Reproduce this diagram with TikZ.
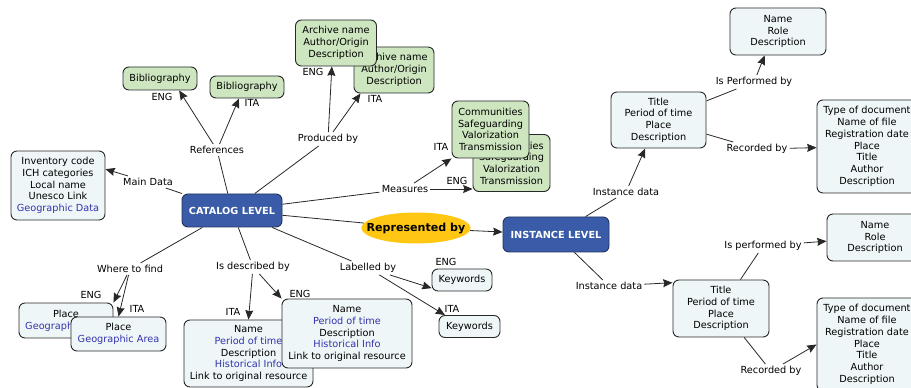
\documentclass[tikz,border=0pt]{standalone}
\usepackage{fontspec}
\setmainfont{DejaVu Sans}
\usetikzlibrary{arrows.meta,shapes.geometric}
\definecolor{boxblue}{RGB}{238,246,248}
\definecolor{boxgreen}{RGB}{206,230,192}
\definecolor{levelblue}{RGB}{58,92,168}
\definecolor{linkgold}{RGB}{255,198,20}
\definecolor{infoblue}{RGB}{51,51,170}
\definecolor{edgegray}{RGB}{40,40,40}
\newcommand{\info}[1]{\textcolor{infoblue}{#1}}
\begin{document}
\begin{tikzpicture}[x=0.75pt,y=-0.75pt,
    font=\fontsize{7.3}{8.8}\selectfont,
    concept/.style={draw=edgegray, line width=0.7pt, rounded corners=4.5pt, align=center, inner sep=1pt},
    infobox/.style={concept, fill=boxblue},
    greenbox/.style={concept, fill=boxgreen},
    levelbox/.style={concept, fill=levelblue, draw=levelblue!55!black, text=white, font=\fontsize{7.3}{8.8}\selectfont\bfseries},
    boxsize/.style 2 args={minimum width=#1*0.75pt, minimum height=#2*0.75pt},
    phrase/.style={inner sep=1.5pt},
    link/.style={draw=edgegray, line width=0.6pt},
    arrow/.style={link, -{Stealth[length=7pt,width=6pt,inset=0.8pt]}}]
    \useasboundingbox (0,0) rectangle (911,388);

    % Levels
    \node[levelbox, boxsize={100}{33}] (catalog) at (232,210.5) {CATALOG LEVEL};
    \node[levelbox, boxsize={106}{35}] (instance) at (556,234.5) {INSTANCE LEVEL};
    \node[ellipse, fill=linkgold, boxsize={107}{31}, inner xsep=-8pt, inner ysep=0pt, font=\fontsize{8.3}{10}\selectfont\bfseries] (repr) at (416,228) {Represented by};

    % Main data
    \node[infobox, boxsize={94}{69}] (inv) at (58,185.5) {Inventory code\\ICH categories\\Local name\\Unesco Link\\\info{Geographic Data}};
    \node[phrase] (mainlbl) at (148,182) {Main Data};

    % References
    \node[greenbox, boxsize={74}{23}] (bibeng) at (160,78.5) {Bibliography};
    \node[greenbox, boxsize={74}{22}] (bibita) at (247,87) {Bibliography};
    \node[phrase] (reflbl) at (217,150) {References};
    \node (bibengtag) at (162,97) {ENG};
    \node (bibitatag) at (252,103) {ITA};

    % Produced by
    \node[greenbox, boxsize={80}{46}] (archita) at (394,70) {Archive name\\Author/Origin\\Description};
    \node[greenbox, boxsize={81}{46}] (archeng) at (336,43) {Archive name\\Author/Origin\\Description};
    \node[phrase] (prodlbl) at (328,139) {Produced by};
    \node (archengtag) at (313,72) {ENG};
    \node (architatag) at (375,99) {ITA};

    % Measures
    \node[greenbox, boxsize={77}{57}] (commeng) at (511.5,163) {Communities\\Safeguarding\\Valorization\\Transmission};
    \node[greenbox, boxsize={77}{57}] (commita) at (490.5,129.5) {Communities\\Safeguarding\\Valorization\\Transmission};
    \node[phrase] (measlbl) at (405,189) {Measures};
    \node (commitatag) at (441,147) {ITA};
    \node (commengtag) at (457,181) {ENG};

    % Labelled by
    \node[infobox, boxsize={60}{22}] (kweng) at (462,280) {Keywords};
    \node[infobox, boxsize={61}{22}] (kwita) at (469.5,326.5) {Keywords};
    \node[phrase] (labellbl) at (368,268) {Labelled by};
    \node (kwengtag) at (446,262) {ENG};
    \node (kwitatag) at (452,309) {ITA};

    % Is described by
    \node[infobox, boxsize={129}{67}] (descita) at (248.5,353.5) {Name\\\info{Period of time}\\Description\\\info{Historical Info}\\Link to original resource};
    \node[infobox, boxsize={130}{69}] (desceng) at (347,333.5) {Name\\\info{Period of time}\\Description\\\info{Historical Info}\\Link to original resource};
    \node[phrase] (desclbl) at (253,267) {Is described by};
    \node (descitatag) at (233,312) {ITA};
    \node (descengtag) at (300,294) {ENG};

    % Where to find
    \node[infobox, boxsize={94}{35}] (placeeng) at (66,320.5) {Place\\\info{Geographic Area}};
    \node[infobox, boxsize={95}{34}] (placeita) at (118.5,334) {Place\\\info{Geographic Area}};
    \node[phrase] (wherelbl) at (130,269) {Where to find};
    \node (placeengtag) at (91,295) {ENG};
    \node (placeitatag) at (137,309) {ITA};

    % Instance data (upper)
    \node[infobox, boxsize={95}{56}] (title1) at (658.5,120) {Title\\Period of time\\Place\\Description};
    \node[phrase] (inst1lbl) at (626,192) {Instance data};
    \node[infobox, boxsize={96}{47}] (role1) at (778,31.5) {Name\\Role\\Description};
    \node[phrase] (perf1lbl) at (754,82) {Is Performed by};
    \node[infobox, boxsize={100}{93}] (doc1) at (867,146.5) {Type of document\\Name of file\\Registration date\\Place\\Title\\Author\\Description};
    \node[phrase] (rec1lbl) at (757,149) {Recorded by};

    % Instance data (lower)
    \node[infobox, boxsize={96}{57}] (title2) at (721,308.5) {Title\\Period of time\\Place\\Description};
    \node[phrase] (inst2lbl) at (609,286) {Instance data};
    \node[infobox, boxsize={96}{47}] (role2) at (875,237.5) {Name\\Role\\Description};
    \node[phrase] (perf2lbl) at (763,246) {Is performed by};
    \node[infobox, boxsize={100}{93}] (doc2) at (867,344.5) {Type of document\\Name of file\\Registration date\\Place\\Title\\Author\\Description};
    \node[phrase] (rec2lbl) at (771,371) {Recorded by};

    % Connectors
    \draw[link] (catalog) -- (mainlbl);
    \draw[arrow] (mainlbl) -- (inv.19);
    \draw[link] (catalog) -- (reflbl);
    \draw[arrow] (reflbl) -- (bibeng.-32);
    \draw[arrow] (reflbl) -- (bibita.-125);
    \draw[link] (catalog) -- (prodlbl);
    \draw[arrow] (prodlbl) -- (archeng.-100);
    \draw[arrow] (prodlbl) -- (archita.-145);
    \draw[link] (catalog) -- (measlbl);
    \draw[arrow] (measlbl) -- (commita.south west);
    \draw[arrow] (measlbl) -- (measlbl -| commeng.west);
    \draw[link] (catalog) -- (repr);
    \draw[arrow] (repr) -- (instance);
    \draw[link] (catalog) -- (labellbl);
    \draw[arrow] (labellbl) -- (kweng.195);
    \draw[arrow] (labellbl) -- (kwita.155);
    \draw[link] (catalog) -- (desclbl);
    \draw[arrow] (desclbl) -- (descita.north);
    \draw[arrow] (desclbl) -- (desceng.north west);
    \draw[link] (catalog) -- (wherelbl);
    \draw[arrow] (wherelbl) -- (placeeng.north east);
    \draw[arrow] (wherelbl) -- (placeita.north);
    \draw[link] (instance) -- (inst1lbl);
    \draw[arrow] (inst1lbl) -- (title1.-115);
    \draw[link] (instance) -- (inst2lbl);
    \draw[arrow] (inst2lbl) -- (title2.152);
    \draw[link] (title1) -- (perf1lbl);
    \draw[arrow] (perf1lbl) -- (role1.-119);
    \draw[link] (title1) -- (rec1lbl);
    \draw[arrow] (rec1lbl) -- (doc1);
    \draw[link] (title2) -- (perf2lbl);
    \draw[arrow] (perf2lbl) -- (role2);
    \draw[link] (title2) -- (rec2lbl);
    \draw[arrow] (rec2lbl) -- (doc2.west);
\end{tikzpicture}
\end{document}
